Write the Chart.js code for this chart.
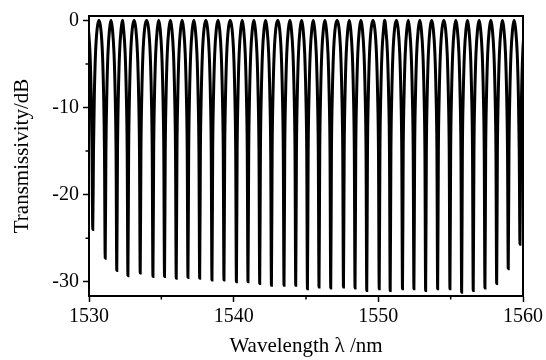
<!DOCTYPE html>
<html>
<head>
<meta charset="utf-8">
<script src="https://cdn.jsdelivr.net/npm/chart.js@4/dist/chart.umd.min.js"></script>
<style>
  html, body { margin: 0; padding: 0; background: #fff; }
  #wrap { width: 546px; height: 360px; position: relative; }
</style>
</head>
<body>
<div id="wrap"><canvas id="c" width="546" height="360"></canvas></div>
<script>
// ---- data ----
// wavelengths (nm) of the transmission dips
const dipWavelength = [1530.26, 1531.12, 1531.92, 1532.69, 1533.54, 1534.42, 1535.22, 1536.03, 1536.84, 1537.65,
  1538.50, 1539.33, 1540.19, 1540.99, 1541.80, 1542.61, 1543.48, 1544.29, 1545.10, 1545.90,
  1546.71, 1547.59, 1548.39, 1549.20, 1550.06, 1550.82, 1551.67, 1552.46, 1553.27, 1554.10,
  1554.95, 1555.76, 1556.56, 1557.37, 1558.18, 1558.98, 1559.79];
// depth of each dip (dB)
const dipDepth = [-24.0, -27.3, -28.7, -29.3, -29.0, -29.4, -29.4, -29.6, -29.5, -29.6,
  -29.8, -29.8, -30.0, -30.0, -30.2, -30.4, -30.4, -30.4, -30.8, -30.6,
  -30.7, -30.6, -30.7, -31.0, -30.8, -31.0, -30.8, -30.8, -31.0, -30.8,
  -30.8, -31.2, -31.0, -30.7, -30.2, -28.5, -25.7];
// wavelengths (nm) of the transmission maxima and their level (dB)
const peakWavelength = [1530.69, 1531.52, 1532.31, 1533.12, 1533.98, 1534.82, 1535.63, 1536.44, 1537.25, 1538.08,
  1538.92, 1539.76, 1540.59, 1541.40, 1542.21, 1543.05, 1543.89, 1544.70, 1545.50, 1546.31,
  1547.15, 1547.99, 1548.80, 1549.63, 1550.44, 1551.25, 1552.07, 1552.87, 1553.69, 1554.53,
  1555.36, 1556.16, 1556.97, 1557.78, 1558.58, 1559.39];
const peakLevel = [0, 0, 0, 0, 0, 0, 0, 0, 0, 0, 0, 0, 0, 0, 0, 0, 0, 0, 0, 0,
  0, 0, 0, 0, 0, 0, 0, 0, 0, 0, 0, 0, 0, 0, 0, 0];
// wall of a dip: distance from the dip centre (nm) and level (dB)
const wallOffset = [0.05, 0.11, 0.19, 0.30];
const wallLevel = [-15.0, -8.5, -3.8, -1.0];
// axis ticks
const xTicks = [1530, 1540, 1550, 1560];
const xMinorTicks = [1535, 1545, 1555];
const yTicks = [0, -10, -20, -30];
const yMinorTicks = [-5, -15, -25];

// ---- build the point table ----
const points = [];
dipWavelength.forEach((d, i) => {
  points.push({ x: d, y: dipDepth[i] });
  wallOffset.forEach((o, k) => {
    points.push({ x: d - o, y: wallLevel[k] });
    points.push({ x: d + o, y: wallLevel[k] });
  });
});
peakWavelength.forEach((p, i) => points.push({ x: p, y: peakLevel[i] }));
points.sort((a, b) => a.x - b.x);

const FONT = "'Liberation Serif', 'Times New Roman', serif";

const framePlugin = {
  id: 'frame',
  afterDraw(chart) {
    const { ctx, chartArea: a, scales } = chart;
    const xs = scales.x, ys = scales.y;
    ctx.save();
    ctx.strokeStyle = '#000';
    ctx.lineWidth = 2;
    ctx.beginPath();
    ctx.moveTo(a.left - 1, a.top);
    ctx.lineTo(a.right, a.top);
    ctx.lineTo(a.right, a.bottom + 1);
    ctx.stroke();
    ctx.lineWidth = 1.5;
    ctx.beginPath();
    xMinorTicks.forEach(v => {
      const px = xs.getPixelForValue(v);
      ctx.moveTo(px, a.bottom);
      ctx.lineTo(px, a.bottom + 3.5);
    });
    yMinorTicks.forEach(v => {
      const py = ys.getPixelForValue(v);
      ctx.moveTo(a.left, py);
      ctx.lineTo(a.left - 3.5, py);
    });
    ctx.stroke();
    ctx.restore();
  }
};

new Chart(document.getElementById('c'), {
  type: 'line',
  data: {
    datasets: [{
      data: points,
      borderColor: '#000',
      borderWidth: 3,
      pointRadius: 0,
      fill: false,
      cubicInterpolationMode: 'monotone'
    }]
  },
  options: {
    responsive: false,
    animation: false,
    events: [],
    layout: { padding: { top: 10, right: 23, left: 0, bottom: 0 } },
    plugins: { legend: { display: false }, tooltip: { enabled: false } },
    scales: {
      x: {
        type: 'linear',
        min: 1530, max: 1560,
        afterFit(s) { s.height = 64; },
        afterBuildTicks(s) { s.ticks = xTicks.map(v => ({ value: v })); },
        grid: { display: true, drawOnChartArea: false, drawTicks: true, tickLength: 6, tickWidth: 1.5, tickColor: '#000' },
        border: { display: true, color: '#000', width: 2 },
        ticks: {
          color: '#000', padding: 3, maxRotation: 0, autoSkip: false,
          font: { family: FONT, size: 20 },
          callback: v => String(v)
        },
        title: {
          display: true, text: 'Wavelength λ /nm', color: '#000',
          font: { family: FONT, size: 21 }, padding: { top: 0, bottom: 1 }
        }
      },
      y: {
        type: 'linear',
        min: -31.63, max: 0.5,
        afterFit(s) { s.width = 89; },
        afterBuildTicks(s) { s.ticks = yTicks.map(v => ({ value: v })); },
        grid: { display: true, drawOnChartArea: false, drawTicks: true, tickLength: 6, tickWidth: 1.5, tickColor: '#000' },
        border: { display: true, color: '#000', width: 2 },
        ticks: {
          color: '#000', padding: 4, autoSkip: false,
          font: { family: FONT, size: 20 },
          callback: v => String(v)
        },
        title: {
          display: true, text: 'Transmissivity/dB', color: '#000',
          font: { family: FONT, size: 21 }, padding: { top: 10, bottom: 0 }
        }
      }
    }
  },
  plugins: [framePlugin]
});
</script>
</body>
</html>
